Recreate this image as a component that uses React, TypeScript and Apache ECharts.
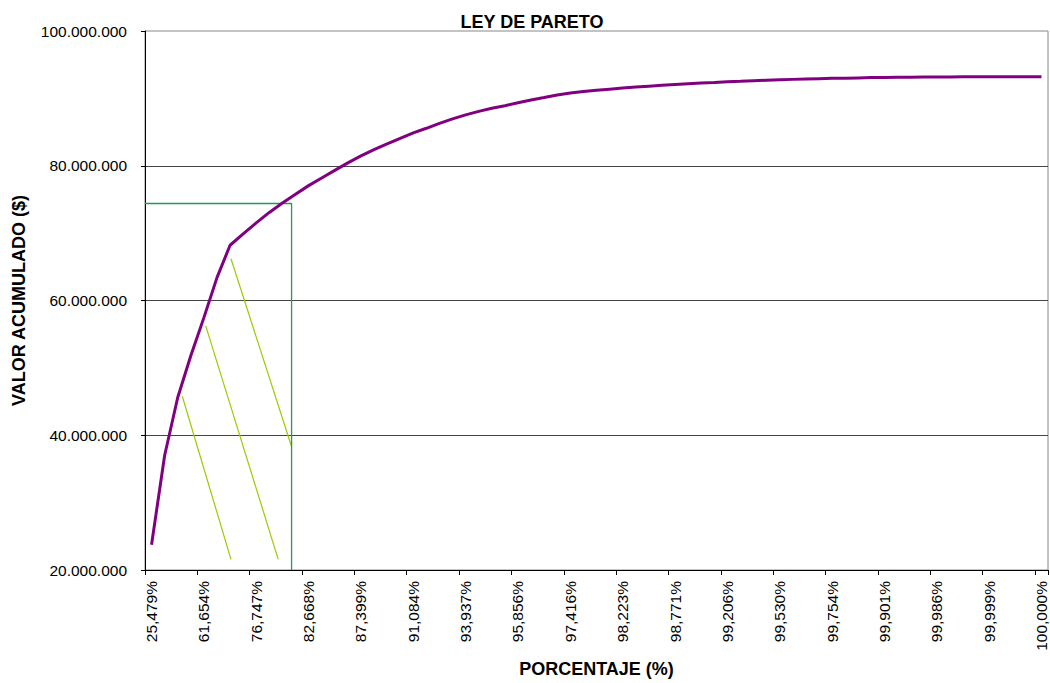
import React, { useEffect, useRef } from "react";
import * as echarts from "echarts";

// Cumulative percentage categories (x axis), only every 4th is shown
const categories: string[] = [
  "25,479%", "39,700%", "49,000%", "55,600%", "61,654%", "68,000%", "73,200%", "75,000%",
  "76,747%", "78,400%", "79,900%", "81,300%", "82,668%", "83,900%", "85,100%", "86,300%",
  "87,399%", "88,400%", "89,300%", "90,200%", "91,084%", "91,800%", "92,600%", "93,300%",
  "93,937%", "94,500%", "95,000%", "95,400%", "95,856%", "96,300%", "96,700%", "97,100%",
  "97,416%", "97,650%", "97,850%", "98,040%", "98,223%", "98,370%", "98,510%", "98,640%",
  "98,771%", "98,890%", "99,000%", "99,100%", "99,206%", "99,290%", "99,370%", "99,450%",
  "99,530%", "99,590%", "99,650%", "99,700%", "99,754%", "99,790%", "99,830%", "99,870%",
  "99,901%", "99,930%", "99,950%", "99,970%", "99,986%", "99,990%", "99,995%", "99,998%",
  "99,999%", "100,000%", "100,000%", "100,000%", "100,000%",
];

// Accumulated value ($)
const valorAcumulado: number[] = [
  23750000, 37000000, 45600000, 51800000, 57460000, 63400000, 68200000, 69900000,
  71530000, 73070000, 74470000, 75770000, 77050000, 78190000, 79310000, 80430000,
  81460000, 82390000, 83230000, 84070000, 84890000, 85560000, 86300000, 86960000,
  87550000, 88070000, 88540000, 88910000, 89340000, 89750000, 90120000, 90500000,
  90790000, 91010000, 91200000, 91370000, 91540000, 91680000, 91810000, 91930000,
  92050000, 92160000, 92270000, 92360000, 92460000, 92530000, 92610000, 92690000,
  92760000, 92820000, 92870000, 92920000, 92970000, 93000000, 93040000, 93080000,
  93110000, 93130000, 93150000, 93170000, 93190000, 93190000, 93200000, 93200000,
  93200000, 93200000, 93200000, 93200000, 93200000,
];

// Annotation shapes in data units (x: category-width units from the left edge)
const rect80: [number, number][] = [
  [0, 74400000],
  [11.2, 74400000],
  [11.2, 20000000],
];
const hatchLines: [number, number][][] = [
  [[2.85, 45790000], [6.57, 21580000]],
  [[4.64, 56230000], [10.18, 21580000]],
  [[6.57, 66200000], [11.21, 38250000]],
];

const yTicks = { min: 20000000, max: 100000000, interval: 20000000 };

const fmtDots = (v: number) =>
  String(Math.round(v)).replace(/\B(?=(\d{3})+(?!\d))/g, ".");

const FONT = "'Liberation Sans', Arial, sans-serif";

export default function App() {
  const ref = useRef<HTMLDivElement>(null);

  useEffect(() => {
    if (!ref.current) return;
    const chart = echarts.init(ref.current, undefined, { renderer: "svg" });
    chart.setOption({
      animation: false,
      backgroundColor: "#ffffff",
      textStyle: { fontFamily: FONT },
      title: {
        text: "LEY DE PARETO",
        left: 527,
        textAlign: "center",
        top: 8,
        textStyle: { fontFamily: FONT, fontSize: 18, fontWeight: "bold", color: "#000" },
      },
      grid: {
        left: 145,
        right: 2,
        top: 31,
        bottom: 111,
        show: true,
        borderColor: "#888",
        borderWidth: 1,
      },
      xAxis: [
        {
          type: "category",
          data: categories,
          boundaryGap: true,
          name: "PORCENTAJE (%)",
          nameLocation: "middle",
          nameGap: 90,
          nameTextStyle: { fontFamily: FONT, fontSize: 18, fontWeight: "bold", color: "#000" },
          axisLine: { show: true, lineStyle: { color: "#000", width: 1 } },
          axisTick: { show: true, interval: 3, alignWithLabel: false, length: 5, lineStyle: { color: "#000" } },
          axisLabel: {
            interval: 3,
            rotate: 90,
            margin: 11,
            fontFamily: FONT,
            fontSize: 15.5,
            color: "#000",
          },
          splitLine: { show: false },
        },
        {
          type: "value",
          min: 0,
          max: 69,
          show: false,
        },
      ],
      yAxis: {
        type: "value",
        min: yTicks.min,
        max: yTicks.max,
        interval: yTicks.interval,
        name: "VALOR ACUMULADO ($)",
        nameLocation: "middle",
        nameGap: 117,
        nameTextStyle: { fontFamily: FONT, fontSize: 18, fontWeight: "bold", color: "#000" },
        axisLine: { show: true, lineStyle: { color: "#000", width: 1 } },
        axisTick: { show: true, length: 4, lineStyle: { color: "#000" } },
        axisLabel: {
          formatter: fmtDots,
          margin: 18,
          fontFamily: FONT,
          fontSize: 15.5,
          color: "#000",
        },
        splitLine: { show: true, showMinLine: false, showMaxLine: false, lineStyle: { color: "#444", width: 1 } },
      },
      series: [
        {
          type: "line",
          xAxisIndex: 1,
          yAxisIndex: 0,
          data: rect80,
          showSymbol: false,
          symbol: "none",
          z: 1,
          color: "#1E9A5A",
          lineStyle: { color: "#1E9A5A", width: 1.3, opacity: 1 },
        },
        {
          type: "lines",
          coordinateSystem: "cartesian2d",
          xAxisIndex: 1,
          yAxisIndex: 0,
          z: 1,
          lineStyle: { color: "#99CC00", width: 1.2, opacity: 1 },
          data: hatchLines.map((c) => ({ coords: c })),
        },
        {
          type: "line",
          data: valorAcumulado,
          xAxisIndex: 0,
          yAxisIndex: 0,
          showSymbol: false,
          symbol: "none",
          z: 3,
          lineStyle: { color: "#800080", width: 3 },
        },
      ],
    });
    return () => chart.dispose();
  }, []);

  return (
    <div
      ref={ref}
      style={{ position: "fixed", left: 0, top: 0, width: 1050, height: 683, background: "#fff" }}
    />
  );
}
